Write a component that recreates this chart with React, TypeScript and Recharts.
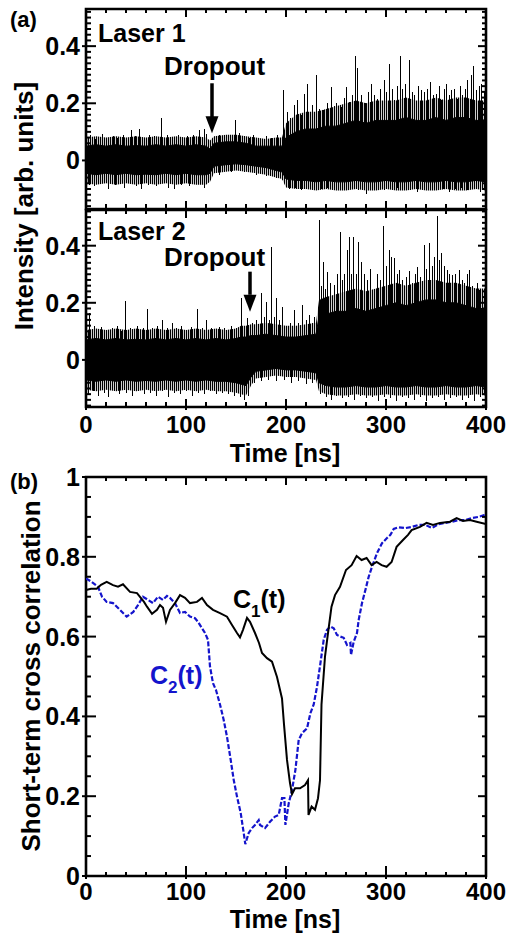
import React from 'react';
import {
  ComposedChart,
  Area,
  Line,
  XAxis,
  YAxis,
  ReferenceArea,
  ReferenceLine,
  ReferenceDot,
} from 'recharts';

// ---------- data ----------

// Laser 1: solid core and fringe (dense thin lines) envelopes
const laser1Time = [0, 10, 20, 30, 40, 50, 60, 70, 80, 90, 100, 110, 120, 124, 128, 140, 150, 160, 170, 180, 190, 196,
  200, 210, 220, 230, 240, 250, 260, 270, 280, 290, 300, 310, 320, 330, 340, 350, 360, 370, 380, 390, 400];
const laser1CoreHi = [0.05, 0.055, 0.05, 0.055, 0.05, 0.052, 0.05, 0.055, 0.05, 0.055, 0.05, 0.055, 0.05, 0.04, 0.06,
  0.065, 0.065, 0.06, 0.05, 0.05, 0.05, 0.05, 0.08, 0.1, 0.11, 0.11, 0.12, 0.12, 0.13, 0.14, 0.13, 0.14, 0.14, 0.14,
  0.15, 0.14, 0.14, 0.15, 0.14, 0.15, 0.15, 0.14, 0.14];
const laser1CoreLo = [-0.045, -0.05, -0.045, -0.05, -0.045, -0.05, -0.048, -0.05, -0.045, -0.05, -0.045, -0.05, -0.05,
  -0.045, -0.02, -0.015, -0.012, -0.015, -0.02, -0.025, -0.035, -0.04, -0.065, -0.07, -0.07, -0.075, -0.07, -0.075,
  -0.075, -0.07, -0.075, -0.075, -0.07, -0.075, -0.075, -0.07, -0.075, -0.075, -0.07, -0.075, -0.075, -0.07, -0.075];
const laser1FringeHi = [0.08, 0.085, 0.08, 0.085, 0.08, 0.085, 0.08, 0.085, 0.08, 0.085, 0.08, 0.085, 0.08, 0.07,
  0.085, 0.09, 0.09, 0.085, 0.08, 0.075, 0.08, 0.08, 0.13, 0.16, 0.17, 0.17, 0.18, 0.19, 0.2, 0.21, 0.2, 0.21, 0.21,
  0.21, 0.22, 0.21, 0.21, 0.22, 0.21, 0.22, 0.22, 0.21, 0.21];
const laser1FringeLo = [-0.08, -0.085, -0.08, -0.085, -0.08, -0.085, -0.08, -0.085, -0.08, -0.085, -0.08, -0.085,
  -0.085, -0.075, -0.045, -0.04, -0.035, -0.04, -0.045, -0.05, -0.06, -0.065, -0.095, -0.1, -0.1, -0.105, -0.1,
  -0.105, -0.105, -0.1, -0.105, -0.105, -0.1, -0.105, -0.105, -0.1, -0.105, -0.105, -0.1, -0.105, -0.105, -0.1, -0.105];

// Laser 2
const laser2Time = [0, 10, 20, 30, 40, 50, 60, 70, 80, 90, 100, 110, 120, 130, 140, 150, 155, 160, 165, 170, 180, 190,
  200, 210, 220, 230, 233, 240, 250, 260, 270, 280, 290, 300, 310, 320, 330, 340, 350, 360, 370, 380, 390, 400];
const laser2CoreHi = [0.07, 0.075, 0.07, 0.075, 0.07, 0.072, 0.07, 0.075, 0.07, 0.075, 0.07, 0.075, 0.07, 0.075, 0.07,
  0.075, 0.08, 0.08, 0.085, 0.085, 0.09, 0.085, 0.08, 0.08, 0.085, 0.09, 0.15, 0.16, 0.17, 0.17, 0.18, 0.17, 0.18,
  0.19, 0.2, 0.19, 0.2, 0.21, 0.21, 0.2, 0.2, 0.19, 0.18, 0.18];
const laser2CoreLo = [-0.07, -0.075, -0.07, -0.075, -0.07, -0.075, -0.072, -0.075, -0.07, -0.075, -0.07, -0.075,
  -0.07, -0.075, -0.075, -0.08, -0.085, -0.09, -0.06, -0.04, -0.035, -0.03, -0.035, -0.035, -0.04, -0.045, -0.08,
  -0.09, -0.095, -0.095, -0.09, -0.095, -0.095, -0.09, -0.095, -0.095, -0.09, -0.095, -0.095, -0.09, -0.095, -0.095,
  -0.09, -0.095];
const laser2FringeHi = [0.105, 0.11, 0.105, 0.11, 0.105, 0.11, 0.105, 0.11, 0.105, 0.11, 0.105, 0.11, 0.105, 0.11,
  0.105, 0.11, 0.12, 0.12, 0.125, 0.125, 0.13, 0.125, 0.12, 0.12, 0.125, 0.13, 0.21, 0.22, 0.23, 0.24, 0.25, 0.24,
  0.25, 0.26, 0.27, 0.26, 0.27, 0.28, 0.28, 0.27, 0.27, 0.26, 0.25, 0.25];
const laser2FringeLo = [-0.105, -0.11, -0.105, -0.11, -0.105, -0.11, -0.105, -0.11, -0.105, -0.11, -0.105, -0.11,
  -0.105, -0.11, -0.11, -0.115, -0.12, -0.125, -0.09, -0.065, -0.06, -0.055, -0.06, -0.06, -0.065, -0.07, -0.11,
  -0.12, -0.125, -0.125, -0.12, -0.125, -0.125, -0.12, -0.125, -0.125, -0.12, -0.125, -0.125, -0.12, -0.125,
  -0.125, -0.12, -0.125];

// individual spikes sticking out of the fringe: [time ns, peak value]
const laser1Up: [number, number][] = [
  [4, 0.088], [9, 0.075], [16, 0.094], [22, 0.08], [27, 0.085], [31, 0.08], [37, 0.09], [45, 0.105], [49, 0.085],
  [53, 0.11], [58, 0.08], [63, 0.09], [68, 0.085], [75, 0.147], [81, 0.088], [86, 0.08], [92, 0.09], [96, 0.08],
  [101, 0.085], [107, 0.09], [113, 0.105], [118, 0.11], [120, 0.094], [133, 0.09], [138, 0.085], [142, 0.09],
  [149, 0.14], [153, 0.095], [158, 0.085], [163, 0.08], [167, 0.09], [172, 0.08], [176, 0.075], [180, 0.085],
  [185, 0.08], [191, 0.09], [197, 0.245], [201, 0.17], [204, 0.15], [208, 0.193], [211, 0.21], [215, 0.16],
  [218, 0.234], [221, 0.269], [224, 0.17], [226, 0.193], [230, 0.3], [233, 0.18], [237, 0.175], [241, 0.2],
  [245, 0.257], [248, 0.19], [250, 0.2], [255, 0.187], [258, 0.22], [260, 0.257], [263, 0.205], [266, 0.23],
  [269, 0.365], [271, 0.322], [275, 0.228], [279, 0.2], [282, 0.24], [285, 0.269], [288, 0.23], [291, 0.216],
  [294, 0.25], [298, 0.281], [300, 0.24], [303, 0.339], [306, 0.25], [308, 0.21], [311, 0.26], [314, 0.365],
  [316, 0.25], [319, 0.269], [323, 0.351], [326, 0.24], [328, 0.228], [332, 0.26], [335, 0.246], [338, 0.24],
  [341, 0.25], [344, 0.275], [347, 0.23], [350, 0.234], [353, 0.26], [355, 0.21], [358, 0.25], [360, 0.269],
  [363, 0.23], [365, 0.246], [368, 0.25], [371, 0.216], [374, 0.26], [376, 0.228], [379, 0.25], [381, 0.281],
  [385, 0.3], [387, 0.33], [390, 0.246], [393, 0.26], [395, 0.269], [398, 0.24], [400, 0.22],
];
const laser1Down: [number, number][] = [
  [3, -0.085], [8, -0.09], [14, -0.08], [22, -0.1], [29, -0.085], [38, -0.095], [44, -0.08], [50, -0.09],
  [55, -0.1], [62, -0.085], [70, -0.09], [76, -0.08], [82, -0.095], [88, -0.1], [95, -0.085], [103, -0.09],
  [110, -0.08], [118, -0.095], [124, -0.07], [133, -0.05], [145, -0.04], [158, -0.04], [170, -0.05], [180, -0.055],
  [190, -0.06], [196, -0.07], [203, -0.1], [209, -0.095], [215, -0.105], [222, -0.1], [228, -0.09], [235, -0.1],
  [241, -0.095], [248, -0.105], [254, -0.1], [260, -0.09], [266, -0.1], [272, -0.105], [280, -0.117], [286, -0.1],
  [292, -0.095], [298, -0.105], [304, -0.1], [311, -0.095], [318, -0.1], [324, -0.105], [331, -0.11], [338, -0.1],
  [344, -0.095], [350, -0.105], [357, -0.1], [363, -0.11], [369, -0.1], [375, -0.095], [381, -0.105], [388, -0.1],
  [394, -0.11], [399, -0.1],
];
const laser2Up: [number, number][] = [
  [3, 0.164], [8, 0.12], [15, 0.116], [20, 0.105], [26, 0.11], [31, 0.12], [35, 0.1], [39, 0.207], [44, 0.11],
  [48, 0.1], [51, 0.12], [57, 0.11], [61, 0.18], [66, 0.11], [71, 0.12], [76, 0.14], [81, 0.11], [86, 0.13],
  [90, 0.11], [95, 0.12], [100, 0.105], [105, 0.115], [111, 0.18], [116, 0.11], [120, 0.14], [125, 0.11],
  [130, 0.1], [133, 0.116], [138, 0.11], [145, 0.12], [150, 0.11], [155, 0.216], [158, 0.12], [161, 0.147],
  [166, 0.13], [170, 0.14], [175, 0.233], [178, 0.15], [180, 0.204], [183, 0.14], [185, 0.397], [188, 0.15],
  [190, 0.216], [193, 0.14], [196, 0.186], [200, 0.116], [204, 0.13], [208, 0.175], [212, 0.13], [216, 0.192],
  [220, 0.14], [223, 0.158], [226, 0.13], [228, 0.15], [233, 0.49], [235, 0.26], [237, 0.344], [239, 0.25],
  [241, 0.309], [244, 0.27], [248, 0.262], [251, 0.3], [254, 0.449], [256, 0.28], [258, 0.3], [261, 0.385],
  [263, 0.43], [265, 0.3], [267, 0.43], [270, 0.3], [272, 0.414], [275, 0.344], [278, 0.3], [281, 0.28],
  [284, 0.32], [288, 0.25], [291, 0.3], [294, 0.28], [297, 0.47], [300, 0.33], [303, 0.385], [305, 0.36],
  [308, 0.356], [311, 0.3], [313, 0.315], [316, 0.28], [320, 0.29], [323, 0.31], [326, 0.268], [329, 0.3],
  [331, 0.327], [334, 0.29], [338, 0.403], [340, 0.32], [343, 0.408], [346, 0.33], [348, 0.36], [351, 0.504],
  [353, 0.35], [355, 0.373], [358, 0.33], [361, 0.315], [363, 0.3], [366, 0.298], [369, 0.3], [373, 0.315],
  [376, 0.28], [378, 0.268], [381, 0.3], [383, 0.315], [386, 0.26], [388, 0.233], [391, 0.27], [393, 0.245],
  [396, 0.24], [398, 0.22], [400, 0.26],
];
const laser2Down: [number, number][] = [
  [2, -0.12], [7, -0.11], [12, -0.125], [18, -0.115], [22, -0.13], [28, -0.11], [33, -0.12], [40, -0.115],
  [46, -0.125], [52, -0.11], [58, -0.12], [64, -0.115], [70, -0.125], [76, -0.11], [82, -0.13], [88, -0.115],
  [94, -0.12], [100, -0.11], [106, -0.125], [112, -0.115], [118, -0.12], [124, -0.11], [130, -0.12], [136, -0.115],
  [142, -0.12], [148, -0.125], [154, -0.13], [158, -0.14], [162, -0.125], [168, -0.08], [175, -0.075], [182, -0.07],
  [190, -0.075], [198, -0.07], [205, -0.08], [212, -0.075], [220, -0.085], [226, -0.08], [234, -0.12], [240, -0.13],
  [245, -0.14], [250, -0.125], [256, -0.135], [262, -0.13], [268, -0.14], [274, -0.125], [280, -0.135], [286, -0.13],
  [292, -0.145], [298, -0.13], [304, -0.135], [310, -0.145], [316, -0.13], [322, -0.135], [328, -0.14], [334, -0.13],
  [340, -0.145], [346, -0.135], [352, -0.13], [358, -0.14], [364, -0.135], [370, -0.13], [376, -0.14], [382, -0.135],
  [388, -0.145], [394, -0.13], [399, -0.135],
];

// short-term cross correlation
const c1Time = [0, 5, 10.7, 15, 20.7, 27, 32, 37, 44, 51, 58, 61, 66, 71, 74, 77, 80, 84, 89, 94, 99, 104, 111, 116,
  121, 127, 134, 141, 146, 151, 154, 157, 161, 164, 169, 173, 176, 181, 186, 191, 196, 198, 201, 204, 206, 209, 214,
  219, 222, 222.5, 225.6, 229, 232, 234, 235.5, 239, 242, 245.5, 249, 254, 260, 265.6, 270.6, 275.6, 280.6, 285.6,
  290.6, 295.6, 300.6, 305.6, 310.6, 317, 322, 325.6, 334, 340.6, 347, 354, 364, 370.6, 377, 384, 390.6, 400];
const c1Value = [0.717, 0.72, 0.72, 0.73, 0.737, 0.729, 0.725, 0.731, 0.712, 0.709, 0.687, 0.675, 0.657, 0.667, 0.679,
  0.672, 0.637, 0.667, 0.684, 0.704, 0.697, 0.684, 0.687, 0.697, 0.679, 0.667, 0.659, 0.65, 0.629, 0.609, 0.598,
  0.617, 0.647, 0.637, 0.609, 0.584, 0.559, 0.546, 0.537, 0.499, 0.445, 0.38, 0.291, 0.233, 0.205, 0.22, 0.22,
  0.228, 0.24, 0.153, 0.174, 0.166, 0.195, 0.24, 0.43, 0.55, 0.609, 0.675, 0.704, 0.725, 0.767, 0.779, 0.802, 0.792,
  0.797, 0.779, 0.787, 0.779, 0.775, 0.787, 0.825, 0.842, 0.855, 0.867, 0.875, 0.885, 0.88, 0.885, 0.888, 0.897,
  0.89, 0.892, 0.888, 0.882];
const c2Time = [0, 5.7, 12, 16, 20.7, 27, 34, 40.7, 47.3, 52, 57, 62, 67, 72, 77, 81, 84, 89, 94, 99, 104, 109, 112,
  116, 119, 122, 124, 127, 130, 134, 137.7, 141, 144.7, 147.7, 151, 154.7, 157.7, 159.3, 162.7, 166, 169, 172.7,
  174, 179, 184, 189, 192.7, 196, 198.4, 199.4, 202.7, 206, 209.4, 212.7, 216, 221, 224.4, 227.7, 231, 234.4, 237.7,
  241, 244.4, 247.7, 251, 254.4, 257.7, 261, 264.4, 265, 267.7, 271, 272.7, 276, 279.4, 282.7, 286, 291, 296, 301,
  304.4, 307.7, 312.7, 319.4, 326, 332.7, 339.4, 346, 352.7, 359.4, 366, 372.7, 379.4, 386, 392.7, 397.7, 400];
const c2Value = [0.746, 0.737, 0.725, 0.7, 0.687, 0.684, 0.667, 0.65, 0.662, 0.679, 0.7, 0.692, 0.684, 0.7, 0.692,
  0.702, 0.697, 0.684, 0.659, 0.662, 0.65, 0.646, 0.637, 0.621, 0.609, 0.592, 0.525, 0.483, 0.466, 0.43, 0.391,
  0.349, 0.291, 0.241, 0.199, 0.158, 0.108, 0.08, 0.108, 0.12, 0.128, 0.14, 0.128, 0.12, 0.136, 0.149, 0.153, 0.195,
  0.195, 0.128, 0.182, 0.215, 0.266, 0.341, 0.358, 0.37, 0.408, 0.43, 0.474, 0.533, 0.592, 0.617, 0.625, 0.621,
  0.604, 0.6, 0.597, 0.579, 0.584, 0.554, 0.587, 0.609, 0.642, 0.684, 0.717, 0.75, 0.775, 0.809, 0.834, 0.847,
  0.855, 0.87, 0.874, 0.872, 0.875, 0.88, 0.88, 0.872, 0.882, 0.885, 0.888, 0.892, 0.892, 0.897, 0.9, 0.904, 0.9];

// dropout arrows: time, value of tail, value where the head starts, value of the tip
const dropout1 = { t: 126, tail: 0.27, neck: 0.15, tip: 0.095 };
const dropout2 = { t: 164, tail: 0.309, neck: 0.228, tip: 0.169 };

// axis tick labels
const timeLabels = [0, 100, 200, 300, 400];
const intensityLabels = [0, 0.2, 0.4];
const corrLabels = [0, 0.2, 0.4, 0.6, 0.8, 1];

// ---------- layout ----------
const W = 509;
const H = 934;
const LEFT = 86;
const RIGHT = 486;
const FONT = '"Liberation Sans", Arial, Helvetica, sans-serif';
const BLUE = '#1414cc';

const steps = (from: number, to: number, step: number) => {
  const out: number[] = [];
  for (let v = from; v <= to + 1e-9; v += step) out.push(Math.round(v * 1000) / 1000);
  return out;
};
const timeTicks = steps(0, 400, 20);
const intensityTicks = steps(-0.16, 0.52, 0.02);
const corrTicks = steps(0, 1, 0.05);

const findLabel = (labels: number[], v: number) => labels.find((l) => Math.abs(l - v) < 1e-6);

const envRows = (time: number[], coreHi: number[], coreLo: number[], fringeHi: number[], fringeLo: number[]) =>
  time.map((t, i) => ({ t, core: [coreLo[i], coreHi[i]], fringe: [fringeLo[i], fringeHi[i]] }));
const spikeRows = (pairs: [number, number][]) =>
  pairs.flatMap(([t, v]) => [{ t, v: 0 }, { t, v }, { t, v: null }]);

const XTick = (props: any) => {
  const { x, payload, top, bottom, labels, majorIn, minorIn, labelGap } = props;
  const lab = findLabel(timeLabels, payload.value);
  const major = lab !== undefined;
  return (
    <g>
      <line x1={x} x2={x} y1={bottom + (major ? 3 : 0)} y2={bottom - (major ? majorIn : minorIn)} stroke="#000" strokeWidth={2} />
      <line x1={x} x2={x} y1={top} y2={top + (major ? 8 : 4)} stroke="#000" strokeWidth={2} />
      {labels && major && (
        <text x={x} y={bottom + labelGap} textAnchor="middle" fontFamily={FONT} fontWeight={700} fontSize={24} fill="#000">
          {lab}
        </text>
      )}
    </g>
  );
};

const YTick = (props: any) => {
  const { y, payload, labels } = props;
  const lab = findLabel(labels, payload.value);
  const major = lab !== undefined;
  return (
    <g>
      <line x1={LEFT - (major ? 4 : 0)} x2={LEFT + (major ? 10 : 5)} y1={y} y2={y} stroke="#000" strokeWidth={2} />
      <line x1={RIGHT} x2={RIGHT - (major ? 8 : 4)} y1={y} y2={y} stroke="#000" strokeWidth={2} />
      {major && (
        <text x={80} y={y + 9} textAnchor="end" fontFamily={FONT} fontWeight={700} fontSize={25} fill="#000">
          {lab}
        </text>
      )}
    </g>
  );
};

const ArrowHead = (props: any) => {
  const { cx, cy } = props;
  return <polygon points={`${cx - 6.5},${cy - 17} ${cx + 6.5},${cy - 17} ${cx},${cy}`} fill="#000" />;
};

interface TracePanelProps {
  id: string;
  top: number;
  bottom: number;
  domain: [number, number];
  rows: any[];
  up: [number, number][];
  down: [number, number][];
  arrow: { t: number; tail: number; neck: number; tip: number };
  showTimeLabels: boolean;
}

const TracePanel = ({ id, top, bottom, domain, rows, up, down, arrow, showTimeLabels }: TracePanelProps) => (
  <div style={{ position: 'absolute', left: 0, top: 0 }}>
    <ComposedChart
      width={W}
      height={H}
      data={rows}
      margin={{ top, bottom: H - bottom - 1, left: LEFT - 1, right: W - RIGHT }}
    >
      <defs>
        <pattern id={id} width={2} height={4} patternUnits="userSpaceOnUse">
          <rect x={0} y={0} width={1.2} height={4} fill="#000" />
        </pattern>
      </defs>
      <XAxis
        dataKey="t"
        type="number"
        domain={[0, 400]}
        ticks={timeTicks}
        interval={0}
        height={1}
        axisLine={false}
        tickLine={false}
        allowDataOverflow
        tick={(p: any) => (
          <XTick {...p} top={top} bottom={bottom} labels={showTimeLabels} majorIn={8} minorIn={5} labelGap={26} />
        )}
      />
      <YAxis
        type="number"
        domain={domain}
        ticks={intensityTicks.filter((v) => v >= domain[0] && v <= domain[1])}
        interval={0}
        width={1}
        axisLine={false}
        tickLine={false}
        allowDataOverflow
        tick={(p: any) => <YTick {...p} labels={intensityLabels} />}
      />
      <Area
        dataKey="fringe"
        type="linear"
        stroke="none"
        fill={`url(#${id})`}
        fillOpacity={1}
        dot={false}
        activeDot={false}
        isAnimationActive={false}
      />
      <Area
        dataKey="core"
        type="linear"
        stroke="#000"
        strokeWidth={1}
        fill="#000"
        fillOpacity={1}
        dot={false}
        activeDot={false}
        isAnimationActive={false}
      />
      <Line
        data={spikeRows(up)}
        dataKey="v"
        stroke="#000"
        strokeWidth={1}
        shapeRendering="crispEdges"
        dot={false}
        activeDot={false}
        isAnimationActive={false}
      />
      <Line
        data={spikeRows(down)}
        dataKey="v"
        stroke="#000"
        strokeWidth={1}
        shapeRendering="crispEdges"
        dot={false}
        activeDot={false}
        isAnimationActive={false}
      />
      <ReferenceArea x1={0} x2={400} y1={domain[0]} y2={domain[1]} fill="none" stroke="#000" strokeWidth={2.6} />
      <ReferenceLine
        segment={[{ x: arrow.t, y: arrow.tail }, { x: arrow.t, y: arrow.neck }]}
        stroke="#000"
        strokeWidth={3.5}
      />
      <ReferenceDot x={arrow.t} y={arrow.tip} r={1} shape={(p: any) => <ArrowHead {...p} />} />
    </ComposedChart>
  </div>
);

const c1Rows = c1Time.map((t, i) => ({ t, v: c1Value[i] }));
const c2Rows = c2Time.map((t, i) => ({ t, v: c2Value[i] }));

const CorrPanel = () => {
  const top = 477;
  const bottom = 876;
  return (
    <div style={{ position: 'absolute', left: 0, top: 0 }}>
      <ComposedChart width={W} height={H} margin={{ top, bottom: H - bottom - 1, left: LEFT - 1, right: W - RIGHT }}>
        <XAxis
          dataKey="t"
          type="number"
          domain={[0, 400]}
          ticks={timeTicks}
          interval={0}
          height={1}
          axisLine={false}
          tickLine={false}
          allowDataOverflow
          tick={(p: any) => <XTick {...p} top={top} bottom={bottom} labels majorIn={10} minorIn={4} labelGap={24} />}
        />
        <YAxis
          type="number"
          domain={[0, 1]}
          ticks={corrTicks}
          interval={0}
          width={1}
          axisLine={false}
          tickLine={false}
          allowDataOverflow
          tick={(p: any) => <YTick {...p} labels={corrLabels} />}
        />
        <Line data={c2Rows} dataKey="v" stroke={BLUE} strokeWidth={2.2} strokeDasharray="5 2" dot={false} activeDot={false} isAnimationActive={false} />
        <Line data={c1Rows} dataKey="v" stroke="#000" strokeWidth={2} dot={false} activeDot={false} isAnimationActive={false} />
        <ReferenceArea x1={0} x2={400} y1={0} y2={1} fill="none" stroke="#000" strokeWidth={2.6} />
      </ComposedChart>
    </div>
  );
};

const txt = { fontFamily: FONT, fontWeight: 700, fill: '#000' } as const;

export default function App() {
  return (
    <div style={{ position: 'absolute', left: 0, top: 0, width: W, height: H, background: '#fff', overflow: 'hidden' }}>
      <TracePanel
        id="fringe1"
        top={9}
        bottom={209}
        domain={[-0.17, 0.53]}
        rows={envRows(laser1Time, laser1CoreHi, laser1CoreLo, laser1FringeHi, laser1FringeLo)}
        up={laser1Up}
        down={laser1Down}
        arrow={dropout1}
        showTimeLabels={false}
      />
      <TracePanel
        id="fringe2"
        top={210}
        bottom={407}
        domain={[-0.165, 0.525]}
        rows={envRows(laser2Time, laser2CoreHi, laser2CoreLo, laser2FringeHi, laser2FringeLo)}
        up={laser2Up}
        down={laser2Down}
        arrow={dropout2}
        showTimeLabels
      />
      <CorrPanel />
      <svg width={W} height={H} style={{ position: 'absolute', left: 0, top: 0, pointerEvents: 'none' }}>
        <text x={10} y={27} fontSize={22} {...txt}>(a)</text>
        <text x={98} y={42} fontSize={25} {...txt}>Laser 1</text>
        <text x={164} y={75} fontSize={26} {...txt}>Dropout</text>
        <text x={98} y={240} fontSize={25} {...txt}>Laser 2</text>
        <text x={164} y={266} fontSize={26} {...txt}>Dropout</text>
        <text x={33} y={206} fontSize={26} textAnchor="middle" transform="rotate(-90 33 206)" {...txt}>
          Intensity [arb. units]
        </text>
        <text x={285} y={462} fontSize={25} textAnchor="middle" {...txt}>Time [ns]</text>
        <text x={10} y={489} fontSize={22} {...txt}>(b)</text>
        <text x={40} y={676} fontSize={26} textAnchor="middle" transform="rotate(-90 40 676)" {...txt}>
          Short-term cross correlation
        </text>
        <text x={285} y={928} fontSize={25} textAnchor="middle" {...txt}>Time [ns]</text>
        <text x={233} y={608} fontSize={25} {...txt}>
          C<tspan fontSize={17} dy={9}>1</tspan>
          <tspan dy={-9}>(t)</tspan>
        </text>
        <text x={150} y={684} fontSize={25} {...txt} fill={BLUE}>
          C<tspan fontSize={17} dy={9}>2</tspan>
          <tspan dy={-9}>(t)</tspan>
        </text>
      </svg>
    </div>
  );
}
